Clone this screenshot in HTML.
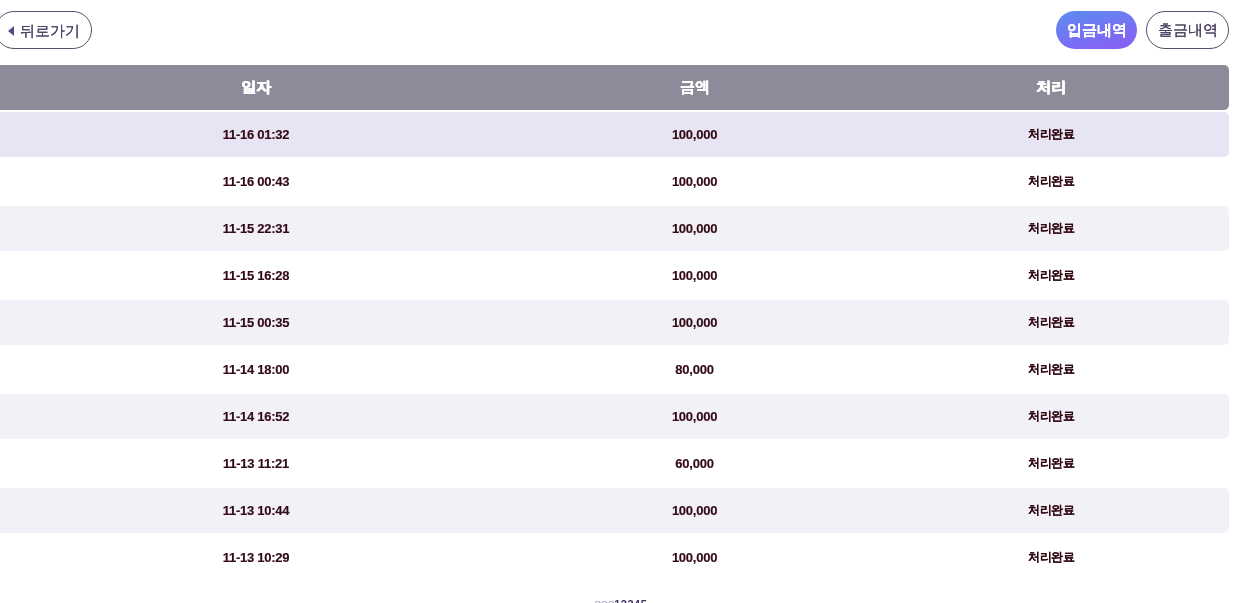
<!DOCTYPE html>
<html lang="ko">
<head>
<meta charset="utf-8">
<style>
html,body{margin:0;padding:0;background:#fff;width:1233px;height:603px;overflow:hidden;}
body{font-family:"Liberation Sans",sans-serif;position:relative;}
.t{will-change:transform;}
.btn{position:absolute;top:11px;height:38px;box-sizing:border-box;border-radius:19px;
  display:flex;align-items:center;justify-content:center;font-size:15px;white-space:nowrap;}
.back{left:-5px;width:97px;border:1.3px solid #57526a;color:#4d4165;}
.back .tri{position:absolute;left:11.5px;top:13.5px;width:0;height:0;border-top:5px solid transparent;border-bottom:5px solid transparent;border-right:6px solid #5b4690;}
.back span{position:absolute;left:24px;top:9.5px;text-shadow:0.4px 0 0 #4d4165;}
.dep{left:1056px;width:81px;background:linear-gradient(165deg,#5b8def 0%,#8b5cf6 100%);color:#fff;font-weight:bold;text-shadow:0.4px 0 0 #fff;}
.wd{left:1146px;width:83px;border:1.3px solid #57526a;color:#4d4165;text-shadow:0.4px 0 0 #4d4165;}
.row{position:absolute;left:-4px;width:1232.5px;height:45px;border-radius:0 5px 5px 0;}
.head{top:65px;background:#8e8a9a;color:#fff;font-weight:bold;font-size:15px;}
.c{position:absolute;top:0;height:45px;line-height:45px;text-align:center;white-space:nowrap;}
.head .c{line-height:44px;text-shadow:0.5px 0 0 #fff,0 0.3px 0 #fff;}
.c1{left:0;width:520px;}
.c2{left:520px;width:357px;}
.c3{left:877px;width:356px;}
.d{color:#320a14;font-weight:bold;font-size:13px;letter-spacing:-0.25px;}
.d .c3{font-size:11.5px;letter-spacing:-0.5px;text-shadow:0.2px 0 0 #320a14;}
.d .c1,.d .c2{-webkit-text-stroke:0.15px #320a14;}
.r1{background:#e7e5f4;}
.ra{background:#f2f1f8;}
.pg{position:absolute;top:596px;left:594px;font-size:13px;line-height:16px;white-space:nowrap;}
.pg .l{color:#a79fbf;letter-spacing:-0.5px;}
.pg .n{color:#3f2f66;letter-spacing:0.5px;font-weight:bold;font-size:11px;}
</style>
</head>
<body>
<div class="btn back"><i class="tri"></i><span class="t">뒤로가기</span></div>
<div class="btn dep"><span class="t">입금내역</span></div>
<div class="btn wd"><span class="t">출금내역</span></div>

<div class="row head"><div class="t c c1">일자</div><div class="t c c2">금액</div><div class="t c c3">처리</div></div>

<div class="row d r1" style="top:112px"><div class="t c c1">11-16 01:32</div><div class="t c c2">100,000</div><div class="t c c3">처리완료</div></div>
<div class="row d" style="top:159px"><div class="t c c1">11-16 00:43</div><div class="t c c2">100,000</div><div class="t c c3">처리완료</div></div>
<div class="row d ra" style="top:206px"><div class="t c c1">11-15 22:31</div><div class="t c c2">100,000</div><div class="t c c3">처리완료</div></div>
<div class="row d" style="top:253px"><div class="t c c1">11-15 16:28</div><div class="t c c2">100,000</div><div class="t c c3">처리완료</div></div>
<div class="row d ra" style="top:300px"><div class="t c c1">11-15 00:35</div><div class="t c c2">100,000</div><div class="t c c3">처리완료</div></div>
<div class="row d" style="top:347px"><div class="t c c1">11-14 18:00</div><div class="t c c2">80,000</div><div class="t c c3">처리완료</div></div>
<div class="row d ra" style="top:394px"><div class="t c c1">11-14 16:52</div><div class="t c c2">100,000</div><div class="t c c3">처리완료</div></div>
<div class="row d" style="top:441px"><div class="t c c1">11-13 11:21</div><div class="t c c2">60,000</div><div class="t c c3">처리완료</div></div>
<div class="row d ra" style="top:488px"><div class="t c c1">11-13 10:44</div><div class="t c c2">100,000</div><div class="t c c3">처리완료</div></div>
<div class="row d" style="top:535px"><div class="t c c1">11-13 10:29</div><div class="t c c2">100,000</div><div class="t c c3">처리완료</div></div>

<div class="pg t"><span class="l">ooo</span><span class="n">12345</span></div>
</body>
</html>
